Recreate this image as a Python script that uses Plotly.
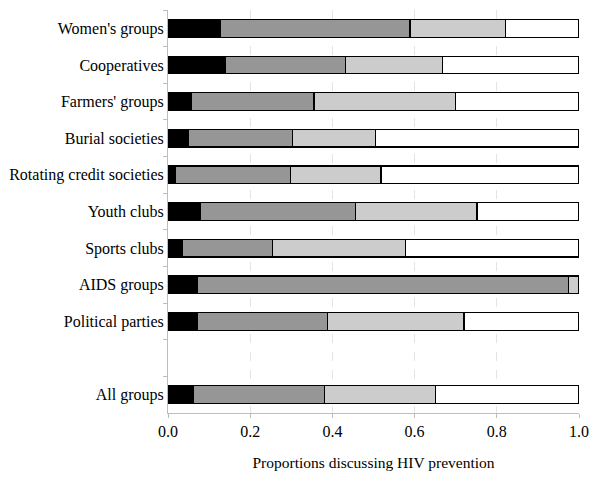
import plotly.graph_objects as go

categories = ["Women's groups", "Cooperatives", "Farmers' groups", "Burial societies",
              "Rotating credit societies", "Youth clubs", "Sports clubs", "AIDS groups",
              "Political parties", " ", "All groups"]

# segment proportions (None for the blank spacer row)
seg1 = [0.127, 0.140, 0.056, 0.050, 0.019, 0.080, 0.036, 0.072, 0.072, None, 0.063]
seg2 = [0.462, 0.291, 0.299, 0.252, 0.280, 0.377, 0.218, 0.903, 0.317, None, 0.317]
seg3 = [0.233, 0.237, 0.344, 0.203, 0.219, 0.295, 0.323, 0.025, 0.331, None, 0.270]
seg4 = [0.178, 0.332, 0.301, 0.495, 0.482, 0.248, 0.423, 0.000, 0.280, None, 0.350]

colors = ["#000000", "#969696", "#cccccc", "#ffffff"]
serif = "Liberation Serif, Times New Roman, serif"

fig = go.Figure()
for vals, col in zip([seg1, seg2, seg3, seg4], colors):
    fig.add_trace(go.Bar(
        y=categories, x=vals, orientation="h",
        marker=dict(color=col, line=dict(color="#000000", width=1.2)),
        showlegend=False, hoverinfo="x+y"))

# page body has an 8px default margin, so the figure is sized 592x472
fig.update_layout(
    barmode="stack",
    bargap=0.52,
    width=592, height=472,
    margin=dict(l=160, r=21, t=2, b=67),
    plot_bgcolor="white", paper_bgcolor="white",
    font=dict(family=serif, size=16, color="#000000"),
    xaxis=dict(
        range=[0, 1], tickvals=[0, 0.2, 0.4, 0.6, 0.8, 1.0],
        ticktext=["0.0", "0.2", "0.4", "0.6", "0.8", "1.0"],
        showgrid=True, gridcolor="#e4e4e4", griddash="dash", gridwidth=1,
        showline=True, linecolor="#bdbdbd", linewidth=1,
        ticks="outside", ticklen=4, tickcolor="#bdbdbd",
        zeroline=False, automargin=False,
        tickfont=dict(family=serif, size=16, color="#000000"),
        title=dict(text="Proportions discussing HIV prevention", standoff=17,
                   font=dict(family=serif, size=15.5, color="#000000")),
    ),
    yaxis=dict(
        type="category", categoryorder="array", categoryarray=categories,
        autorange="reversed", automargin=False,
        showline=True, linecolor="#bdbdbd", linewidth=1,
        ticks="outside", ticklen=4, tickcolor="#bdbdbd", tickson="boundaries",
        showgrid=False, zeroline=False,
        tickfont=dict(family=serif, size=16, color="#000000"),
    ),
)

fig.write_html("out.html")
